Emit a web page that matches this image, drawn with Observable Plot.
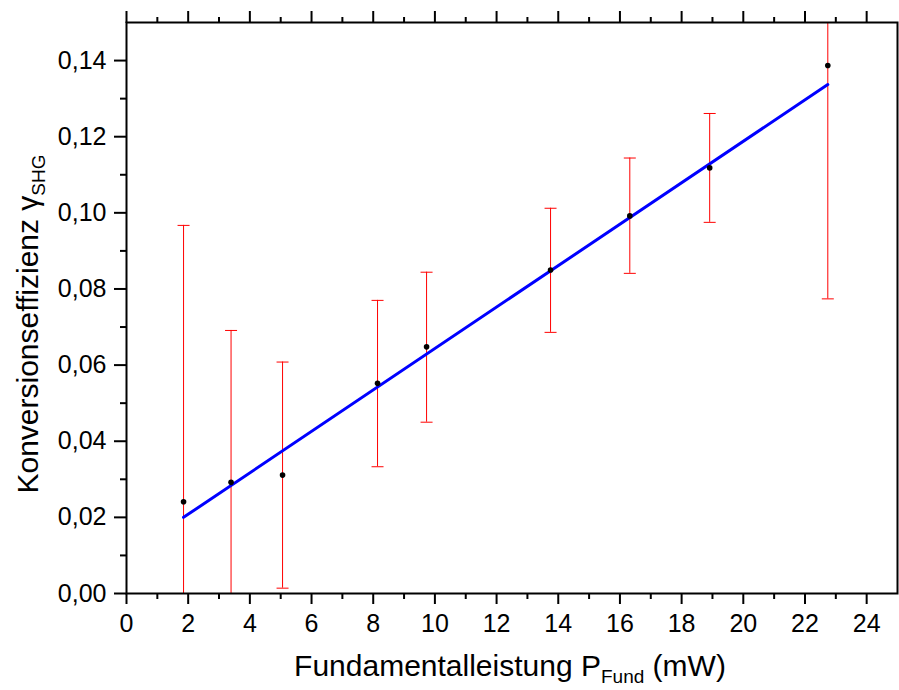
<!DOCTYPE html>
<html><head><meta charset="utf-8">
<script src="https://cdn.jsdelivr.net/npm/d3@7"></script>
<script src="https://cdn.jsdelivr.net/npm/@observablehq/plot@0.6"></script>
<style>body{margin:0;background:#fff} svg{font-family:"Liberation Sans",Arial,sans-serif}</style>
</head><body><div id="chart"></div>
<script>
// Data
const power      = [1.85, 3.39, 5.06, 8.14, 9.73, 13.75, 16.32, 18.91, 22.74];
const efficiency = [0.0241, 0.0292, 0.0311, 0.0552, 0.0648, 0.0850, 0.0992, 0.1118, 0.1387];
const errLow     = [-0.0485, -0.0107, 0.0014, 0.0333, 0.0450, 0.0686, 0.0841, 0.0975, 0.0774];
const errHigh    = [0.0967, 0.0691, 0.0608, 0.0770, 0.0844, 0.1012, 0.1144, 0.1261, 0.2000];
const fitX = [1.85, 22.74];
const fitY = [0.0200, 0.1337];
const xTicks = [0, 2, 4, 6, 8, 10, 12, 14, 16, 18, 20, 22, 24];
const xMinor = [1, 3, 5, 7, 9, 11, 13, 15, 17, 19, 21, 23];
const yTicks = [0, 0.02, 0.04, 0.06, 0.08, 0.10, 0.12, 0.14];
const yMinor = [0.01, 0.03, 0.05, 0.07, 0.09, 0.11, 0.13];

const pts = power.map((p, i) => ({x: p, y: efficiency[i], lo: errLow[i], hi: errHigh[i]}));
const fit = fitX.map((x, i) => ({x, y: fitY[i]}));

const cap = {draw(ctx, size) { const r = Math.sqrt(size / Math.PI); ctx.moveTo(-r, 0); ctx.lineTo(r, 0); }};

const plot = Plot.plot({
  width: 899, height: 690,
  marginLeft: 126, marginRight: 2, marginTop: 22, marginBottom: 97,
  x: {domain: [0, 25]},
  y: {domain: [0, 0.15]},
  style: {fontFamily: '"Liberation Sans", Arial, sans-serif', background: "#fff"},
  marks: [
    Plot.ruleX(pts, {x: "x", y1: "lo", y2: "hi", stroke: "#ff0000", strokeWidth: 1, clip: true}),
    Plot.dot(pts, {x: "x", y: "hi", symbol: cap, r: 6, stroke: "#ff0000", fill: "none", strokeWidth: 1, clip: true}),
    Plot.dot(pts, {x: "x", y: "lo", symbol: cap, r: 6, stroke: "#ff0000", fill: "none", strokeWidth: 1, clip: true}),
    Plot.line(fit, {x: "x", y: "y", stroke: "#0000ff", strokeWidth: 3}),
    Plot.dot(pts, {x: "x", y: "y", r: 2.8, fill: "#000", stroke: "none"}),
    Plot.axisX(xTicks, {anchor: "bottom", tickSize: 11, tickPadding: 10, fontSize: 25, strokeWidth: 2, tickFormat: d => String(d), label: null, fill: "#000"}),
    Plot.axisX(xMinor, {anchor: "bottom", tickSize: 6, strokeWidth: 2, tickFormat: () => "", label: null}),
    Plot.axisX(xTicks, {anchor: "top", tickSize: 12, strokeWidth: 2, tickFormat: () => "", label: null}),
    Plot.axisX(xMinor, {anchor: "top", tickSize: 6, strokeWidth: 2, tickFormat: () => "", label: null}),
    Plot.axisY(yTicks, {anchor: "left", tickSize: 12, tickPadding: 8, fontSize: 25, strokeWidth: 2, tickFormat: d => d.toFixed(2).replace(".", ","), label: null, fill: "#000"}),
    Plot.axisY(yMinor, {anchor: "left", tickSize: 6, strokeWidth: 2, tickFormat: () => "", label: null}),
    Plot.frame({stroke: "#000", strokeWidth: 2})
  ]
});

const svg = d3.select(plot);
// x axis title
const xt = svg.append("text")
  .attr("x", 510).attr("y", 676)
  .attr("text-anchor", "middle")
  .attr("font-size", 30).attr("fill", "#000");
xt.append("tspan").text("Fundamentalleistung P");
xt.append("tspan").attr("font-size", 19).attr("dy", 7).text("Fund");
xt.append("tspan").attr("dy", -7).text(" (mW)");

// y axis title
const yt = svg.append("text")
  .attr("transform", "translate(38,324) rotate(-90)")
  .attr("text-anchor", "middle")
  .attr("font-size", 30).attr("fill", "#000");
yt.append("tspan").text("Konversionseffizienz \u03b3");
yt.append("tspan").attr("font-size", 19).attr("dy", 7).text("SHG");

document.getElementById("chart").appendChild(plot);
</script>
</body></html>
